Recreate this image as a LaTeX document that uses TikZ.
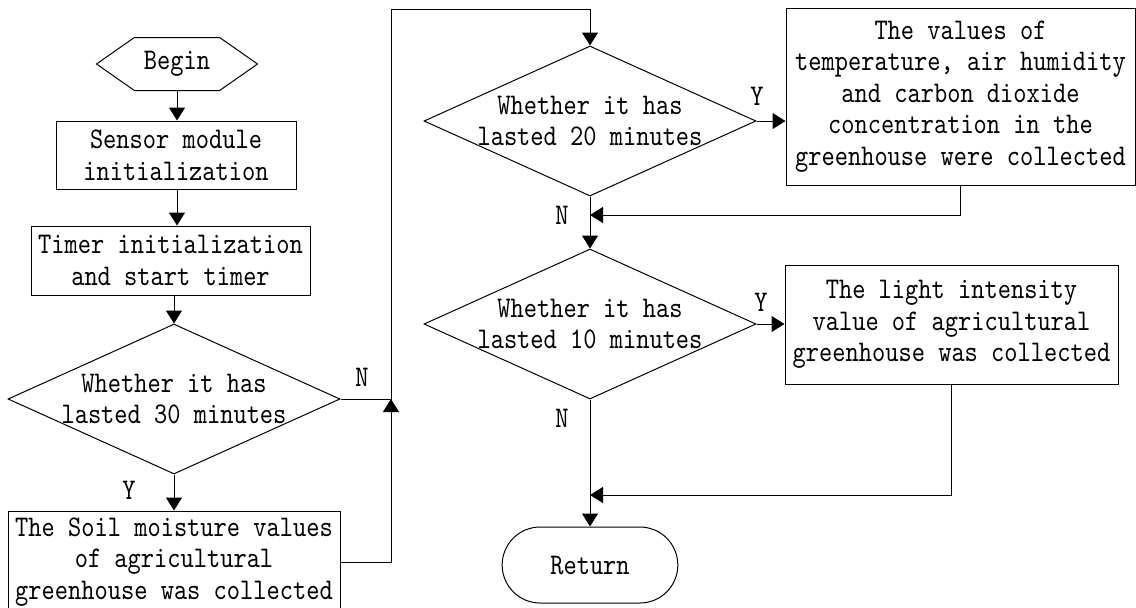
\documentclass[tikz,border=0pt]{standalone}
\usepackage{fontspec}
\newfontfamily\flowfont{lmmono10-regular.otf}[FakeStretch=0.84]
\usetikzlibrary{shapes.geometric,shapes.symbols,shapes.misc,arrows.meta}

\begin{document}
\begin{tikzpicture}[x=0.5pt,y=-0.5pt,
    font=\flowfont\fontsize{15pt}{15.8pt}\selectfont,
    line width=0.5pt,
    >={Triangle[length=6.5pt,width=8pt]},
    box/.style={draw,rectangle,inner sep=0pt,align=center},
    test/.style={draw,diamond,inner sep=-4pt,aspect=2.2,align=center,
      minimum width=166pt,minimum height=75pt},
    startstop/.style={draw,signal,signal to=west and east,signal pointer angle=70,
      inner sep=0pt,minimum width=80.5pt,minimum height=26.5pt}]
  \useasboundingbox (0,0) rectangle (1136,607);
  \node[startstop] (begin) at (177,64) {Begin};
  \node[box,minimum width=120pt,minimum height=34pt] (sensor) at (176,155)
    {Sensor module\\initialization};
  \node[box,minimum width=139.5pt,minimum height=34.5pt] (timer) at (170.5,260.5)
    {Timer initialization\\and start timer};
  \node[test] (d30) at (174,399) {Whether it has\\lasted 30 minutes};
  \node[box,minimum width=166pt,minimum height=51pt] (soil) at (174,562)
    {The Soil moisture values\\of agricultural\\greenhouse was collected};
  \node[test] (d20) at (590,121) {Whether it has\\lasted 20 minutes};
  \node[box,minimum width=174.5pt,minimum height=88.5pt] (temp) at (960.5,96.5)
    {The values of\\temperature, air humidity\\and carbon dioxide\\concentration in the\\greenhouse were collected};
  \node[test] (d10) at (590,324) {Whether it has\\lasted 10 minutes};
  \node[box,minimum width=166.5pt,minimum height=59.5pt] (light) at (951.5,324.5)
    {The light intensity\\value of agricultural\\greenhouse was collected};
  \node[draw,rounded rectangle,minimum width=94.5pt,minimum height=38pt] (ret) at (590,565) {Return};
  \node (y30) at (129,490) {Y};
  \node (n30) at (362,377) {N};
  \node (y20) at (757,96) {Y};
  \node (n20) at (562,215) {N};
  \node (y10) at (761,302) {Y};
  \node (n10) at (562,418) {N};
  \coordinate (j1) at (391,399);
  \coordinate (top) at (391,9);
  \coordinate (j2) at (590,215);
  \coordinate (j3) at (590,495);
  \draw[->] (begin.south) -- (begin.south |- sensor.north);
  \draw[->] (begin.south |- sensor.south) -- (begin.south |- timer.north);
  \draw[->] (d30.north |- timer.south) -- (d30.north);
  \draw[->] (d30.south) -- (soil.north);
  \draw[->] (d30.east) -- (j1) -- (top) -| (d20.north);
  \draw[->] (soil.east) -| (j1);
  \draw[->] (d20.east) -- (d20.east -| temp.west);
  \draw[->] (temp.south) |- (j2);
  \draw[->] (d20.south) -- (d10.north);
  \draw[->] (d10.east) -- (d10.east -| light.west);
  \draw[->] (light.south) |- (j3);
  \draw[->] (d10.south) -- (ret.north);
\end{tikzpicture}
\end{document}
